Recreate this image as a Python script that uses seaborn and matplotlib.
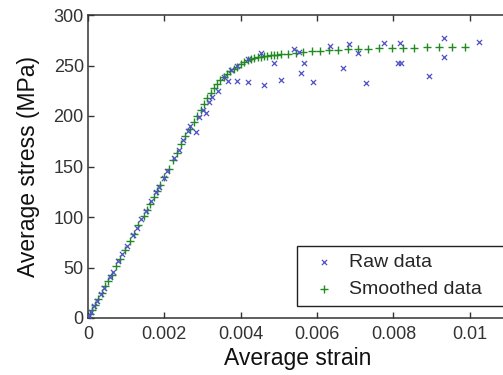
import matplotlib
matplotlib.use("Agg")
import matplotlib.pyplot as plt
import seaborn as sns
import pandas as pd

smooth_strain = [0.00001, 0.00005, 0.0001, 0.00018, 0.00027, 0.00036, 0.00045, 0.00053, 0.00062,
                 0.00074, 0.00084, 0.00097, 0.0011, 0.0012, 0.00132, 0.00146, 0.00154, 0.00163,
                 0.00172, 0.0018, 0.00189, 0.002, 0.00211, 0.00222, 0.00233, 0.00244, 0.00255,
                 0.00266, 0.00277, 0.00286, 0.00295, 0.00304, 0.00312, 0.00321, 0.0033, 0.00338,
                 0.00347, 0.00356, 0.00365, 0.00373, 0.00382, 0.00391, 0.004, 0.00409, 0.00418,
                 0.00426, 0.00435, 0.00444, 0.00453, 0.00462, 0.0047, 0.00479, 0.00488, 0.00496,
                 0.00505, 0.00524, 0.00545, 0.00563, 0.00587, 0.00608, 0.00632, 0.00655, 0.00682,
                 0.00708, 0.00734, 0.00763, 0.00795, 0.00826, 0.00855, 0.00887, 0.00918, 0.00953,
                 0.00987]
smooth_stress = [1, 4, 8, 13, 19, 25, 32, 37, 43,
                 51, 58, 67, 76, 83, 92, 101, 107, 113,
                 120, 126, 132, 140, 148, 156, 163, 172, 180,
                 187, 194, 200, 206, 212, 218, 223, 228, 232,
                 236, 239, 242, 245, 247, 249, 251, 253, 255,
                 256, 257, 258, 258, 259, 259, 260, 260, 260,
                 261, 261, 262, 263, 264, 264, 265, 265, 266,
                 266, 266, 267, 267, 267, 267, 268, 268, 268,
                 268]

raw_strain = [0.00002, 0.00008, 0.00015, 0.00024, 0.00033, 0.00042, 0.00058, 0.00066, 0.00079,
              0.0009, 0.00102, 0.00118, 0.00128, 0.0014, 0.00152, 0.00166, 0.00178, 0.00187,
              0.00198, 0.00208, 0.00226, 0.00238, 0.00249, 0.00262, 0.00268, 0.00282, 0.0029,
              0.003, 0.00308, 0.00316, 0.00326, 0.0034, 0.00355, 0.00366, 0.00375, 0.00389,
              0.0039, 0.00418, 0.00418, 0.00453, 0.00461, 0.00487, 0.00505, 0.00539, 0.00553,
              0.00558, 0.00566, 0.00589, 0.00634, 0.00668, 0.00684, 0.00708, 0.00729, 0.00776,
              0.00813, 0.00818, 0.00821, 0.00892, 0.00932, 0.00932, 0.01024]
raw_stress = [2, 6, 12, 17, 24, 30, 41, 46, 56,
              63, 71, 82, 89, 98, 106, 116, 125, 130,
              139, 146, 158, 166, 176, 185, 190, 184, 199,
              206, 203, 214, 219, 225, 239, 235, 246, 235,
              250, 234, 256, 262, 231, 252, 236, 266, 263,
              243, 252, 234, 269, 248, 271, 262, 233, 272,
              252, 272, 252, 240, 277, 258, 273]

x_ticks = [0, 0.002, 0.004, 0.006, 0.008, 0.01]
x_tick_labels = ["0", "0.002", "0.004", "0.006", "0.008", "0.01"]
y_ticks = [0, 50, 100, 150, 200, 250, 300]

raw_df = pd.DataFrame({"strain": raw_strain, "stress": raw_stress})
smooth_df = pd.DataFrame({"strain": smooth_strain, "stress": smooth_stress})

sns.set_style("white")
plt.rcParams["font.family"] = ["Liberation Sans", "DejaVu Sans"]

fig = plt.figure(figsize=(5.03, 3.75), dpi=100)
W, H = 503, 375
ax = fig.add_axes([88 / W, (H - 318) / H, 420 / W, (318 - 15) / H])

raw_color = "#5050c8"
sm_color = "#238a23"

sns.scatterplot(data=raw_df, x="strain", y="stress", marker="x", color=raw_color,
                s=14, linewidth=0.9, ax=ax, label="Raw data", zorder=3)
sns.scatterplot(data=smooth_df, x="strain", y="stress", marker="+", color=sm_color,
                s=40, linewidth=1.0, ax=ax, label="Smoothed data", zorder=2)

ax.set_xlim(0, 0.011)
ax.set_ylim(0, 300)
ax.set_xticks(x_ticks)
ax.set_xticklabels(x_tick_labels)
ax.set_yticks(y_ticks)

ax.tick_params(axis="both", which="both", direction="in", length=4, width=1.0,
               labelsize=13, colors="#333333", top=True, bottom=True, left=True, right=False,
               pad=3)
ax.tick_params(axis="x", pad=6)
for s in ["left", "bottom", "top"]:
    ax.spines[s].set_color("#333333")
    ax.spines[s].set_linewidth(1.1)
ax.spines["right"].set_visible(False)

ax.set_xlabel("Average strain", fontsize=16.5, color="#111111", labelpad=3)
ax.set_ylabel("Average stress (MPa)", fontsize=16.5, color="#111111", labelpad=10)

leg = ax.legend(loc="lower left",
                bbox_to_anchor=(297 / W, (H - 306) / H, 230 / W, 65 / H),
                bbox_transform=fig.transFigure, mode="expand", fontsize=14, frameon=True,
                fancybox=False, edgecolor="#222222", framealpha=1, borderpad=0.4,
                handlelength=2.0, handletextpad=0.25, labelspacing=0.5,
                borderaxespad=0, scatterpoints=1)
leg.get_frame().set_linewidth(1.0)

fig.savefig("out.png", dpi=100)
